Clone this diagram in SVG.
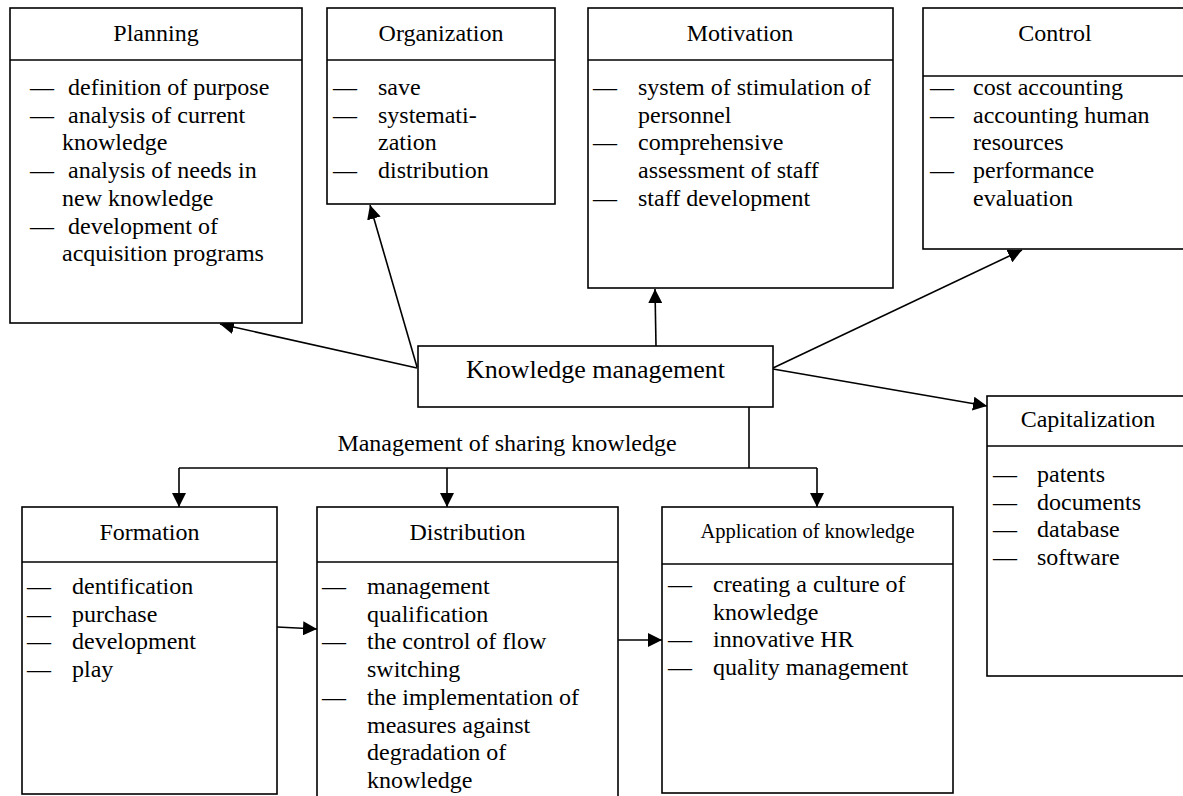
<svg xmlns="http://www.w3.org/2000/svg" width="1183" height="796" viewBox="0 0 1183 796">
<defs>
<style>
.box{fill:#fff;stroke:#000;stroke-width:1.6}
.hd{stroke:#000;stroke-width:1.6}
.t{font-family:"Liberation Serif","Times New Roman",serif;font-size:24px;fill:#000}
.s{font-size:20.5px}
.km{font-size:26px}
.c{text-anchor:middle}
.conn line{stroke:#000;stroke-width:1.6;fill:none}
</style>
<marker id="ah" viewBox="0 0 14 14" markerUnits="userSpaceOnUse" markerWidth="14" markerHeight="14" refX="14" refY="7" orient="auto">
<path d="M0,0 L14,7 L0,14 z" fill="#000"/>
</marker>
</defs>
<rect width="1183" height="796" fill="#fff"/>

<g id="conn" class="conn">
<line x1="417" y1="368" x2="220" y2="324" marker-end="url(#ah)"/>
<line x1="417" y1="367" x2="370" y2="205" marker-end="url(#ah)"/>
<line x1="656" y1="346" x2="655" y2="289" marker-end="url(#ah)"/>
<line x1="773" y1="368" x2="1022" y2="250" marker-end="url(#ah)"/>
<line x1="773" y1="369" x2="987" y2="406" marker-end="url(#ah)"/>
<line x1="749" y1="407" x2="749" y2="468"/>
<line x1="179" y1="468" x2="817" y2="468"/>
<line x1="179" y1="468" x2="179" y2="507" marker-end="url(#ah)"/>
<line x1="447" y1="468" x2="447" y2="507" marker-end="url(#ah)"/>
<line x1="817" y1="468" x2="817" y2="507" marker-end="url(#ah)"/>
<line x1="277" y1="627" x2="317" y2="629" marker-end="url(#ah)"/>
<line x1="618" y1="640" x2="662" y2="640" marker-end="url(#ah)"/>
<text class="t c" x="507" y="451">Management of sharing knowledge</text>
</g>

<g id="planning">
<rect class="box" x="10" y="8" width="292" height="315"/>
<line class="hd" x1="10" y1="60" x2="302" y2="60"/>
<text class="t c" x="156" y="41">Planning</text>
<text class="t" x="30" y="95">—<tspan x="30" y="122.7">—</tspan><tspan x="30" y="178.1">—</tspan><tspan x="30" y="233.5">—</tspan></text>
<text class="t"><tspan x="68" y="95">definition of purpose</tspan><tspan x="68" y="122.7">analysis of current</tspan><tspan x="62" y="150.4">knowledge</tspan><tspan x="68" y="178.1">analysis of needs in</tspan><tspan x="62" y="205.8">new knowledge</tspan><tspan x="68" y="233.5">development of</tspan><tspan x="62" y="261.2">acquisition programs</tspan></text>
</g>

<g id="organization">
<rect class="box" x="327" y="8" width="228" height="196"/>
<line class="hd" x1="327" y1="60" x2="555" y2="60"/>
<text class="t c" x="441" y="41">Organization</text>
<text class="t"><tspan x="333" y="95">—</tspan><tspan x="333" y="122.7">—</tspan><tspan x="333" y="178.1">—</tspan></text>
<text class="t"><tspan x="378" y="95">save</tspan><tspan x="378" y="122.7">systemati-</tspan><tspan x="378" y="150.4">zation</tspan><tspan x="378" y="178.1">distribution</tspan></text>
</g>

<g id="motivation">
<rect class="box" x="588" y="8" width="305" height="280"/>
<line class="hd" x1="588" y1="60" x2="893" y2="60"/>
<text class="t c" x="740" y="41">Motivation</text>
<text class="t"><tspan x="593" y="95">—</tspan><tspan x="593" y="150.4">—</tspan><tspan x="593" y="205.8">—</tspan></text>
<text class="t"><tspan x="638" y="95">system of stimulation of</tspan><tspan x="638" y="122.7">personnel</tspan><tspan x="638" y="150.4">comprehensive</tspan><tspan x="638" y="178.1">assessment of staff</tspan><tspan x="638" y="205.8">staff development</tspan></text>
</g>

<g id="control">
<rect class="box" x="923" y="8" width="270" height="241"/>
<line class="hd" x1="923" y1="76" x2="1193" y2="76"/>
<text class="t c" x="1055" y="41">Control</text>
<text class="t"><tspan x="930" y="95">—</tspan><tspan x="930" y="122.7">—</tspan><tspan x="930" y="178.1">—</tspan></text>
<text class="t"><tspan x="973" y="95">cost accounting</tspan><tspan x="973" y="122.7">accounting human</tspan><tspan x="973" y="150.4">resources</tspan><tspan x="973" y="178.1">performance</tspan><tspan x="973" y="205.8">evaluation</tspan></text>
</g>

<g id="km">
<rect class="box" x="418" y="346" width="355" height="61"/>
<text class="t km c" x="595.5" y="378">Knowledge management</text>
</g>

<g id="capitalization">
<rect class="box" x="987" y="396" width="210" height="280"/>
<line class="hd" x1="987" y1="446" x2="1197" y2="446"/>
<text class="t c" x="1088" y="427">Capitalization</text>
<text class="t"><tspan x="993" y="482">—</tspan><tspan x="993" y="509.7">—</tspan><tspan x="993" y="537.4">—</tspan><tspan x="993" y="565.1">—</tspan></text>
<text class="t"><tspan x="1037" y="482">patents</tspan><tspan x="1037" y="509.7">documents</tspan><tspan x="1037" y="537.4">database</tspan><tspan x="1037" y="565.1">software</tspan></text>
</g>

<g id="formation">
<rect class="box" x="22" y="507" width="255" height="287"/>
<line class="hd" x1="22" y1="562" x2="277" y2="562"/>
<text class="t c" x="149.5" y="540">Formation</text>
<text class="t"><tspan x="27" y="594">—</tspan><tspan x="27" y="621.7">—</tspan><tspan x="27" y="649.4">—</tspan><tspan x="27" y="677.1">—</tspan></text>
<text class="t"><tspan x="72" y="594">dentification</tspan><tspan x="72" y="621.7">purchase</tspan><tspan x="72" y="649.4">development</tspan><tspan x="72" y="677.1">play</tspan></text>
</g>

<g id="distribution">
<rect class="box" x="317" y="507" width="301" height="300"/>
<line class="hd" x1="317" y1="562" x2="618" y2="562"/>
<text class="t c" x="467.5" y="540">Distribution</text>
<text class="t"><tspan x="322" y="594">—</tspan><tspan x="322" y="649.4">—</tspan><tspan x="322" y="704.8">—</tspan></text>
<text class="t"><tspan x="367" y="594">management</tspan><tspan x="367" y="621.7">qualification</tspan><tspan x="367" y="649.4">the control of flow</tspan><tspan x="367" y="677.1">switching</tspan><tspan x="367" y="704.8">the implementation of</tspan><tspan x="367" y="732.5">measures against</tspan><tspan x="367" y="760.2">degradation of</tspan><tspan x="367" y="787.9">knowledge</tspan></text>
</g>

<g id="application">
<rect class="box" x="662" y="507" width="291" height="286"/>
<line class="hd" x1="662" y1="564" x2="953" y2="564"/>
<text class="t s c" x="807.5" y="538">Application of knowledge</text>
<text class="t"><tspan x="668" y="592">—</tspan><tspan x="668" y="647.4">—</tspan><tspan x="668" y="675.1">—</tspan></text>
<text class="t"><tspan x="713" y="592">creating a culture of</tspan><tspan x="713" y="619.7">knowledge</tspan><tspan x="713" y="647.4">innovative HR</tspan><tspan x="713" y="675.1">quality management</tspan></text>
</g>
</svg>
